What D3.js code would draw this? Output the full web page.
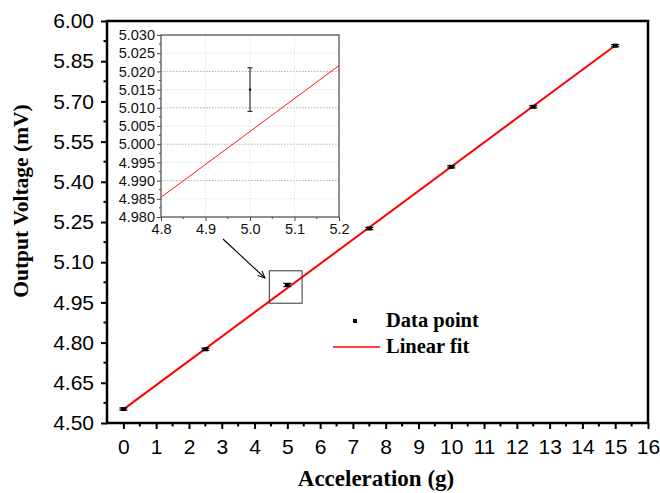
<!DOCTYPE html>
<html>
<head>
<meta charset="utf-8">
<script src="https://cdn.jsdelivr.net/npm/d3@7"></script>
<style>
  body { margin: 0; background: #fff; }
  svg { display: block; }
</style>
</head>
<body>
<div id="chart"></div>
<script>
// Data
const accel = [0, 2.5, 5, 7.5, 10, 12.5, 15];
const voltage = [4.552, 4.775, 5.015, 5.226, 5.456, 5.680, 5.908];
const errBar = [0.004, 0.004, 0.006, 0.004, 0.004, 0.004, 0.004];
const fitSlope = 0.0905;
const fitIntercept = 4.551;
const xTicks = d3.range(0, 17, 1);
const yTicks = [4.50, 4.65, 4.80, 4.95, 5.10, 5.25, 5.40, 5.55, 5.70, 5.85, 6.00];
const insetXTicks = [4.8, 4.9, 5.0, 5.1, 5.2];
const insetYTicks = [4.980, 4.985, 4.990, 4.995, 5.000, 5.005, 5.010, 5.015, 5.020, 5.025, 5.030];
const zoomBox = { x0: 4.45, x1: 5.45, y0: 4.947, y1: 5.068 };

const width = 660, height = 493;
const svg = d3.select("#chart").append("svg")
    .attr("width", width)
    .attr("height", height);

const sans = "'Liberation Sans', Arial, sans-serif";
const serif = "'Liberation Serif', 'Times New Roman', serif";

// Main scales
const x = d3.scaleLinear().domain([-0.5, 16]).range([107, 648]);
const y = d3.scaleLinear().domain([4.5, 6.0]).range([423, 21]);

// Axes
const xAxis = svg.append("g")
    .attr("transform", `translate(0,${y.range()[0]})`)
    .call(d3.axisBottom(x).tickValues(xTicks).tickFormat(d3.format("d")).tickSize(6).tickPadding(10));
const yAxis = svg.append("g")
    .attr("transform", `translate(${x.range()[0]},0)`)
    .call(d3.axisLeft(y).tickValues(yTicks).tickFormat(d3.format(".2f")).tickSize(6).tickPadding(7));

// minor ticks
svg.append("g").selectAll("line")
    .data(d3.range(0.5, 16, 1))
    .join("line")
    .attr("x1", d => x(d)).attr("x2", d => x(d))
    .attr("y1", y.range()[0]).attr("y2", y.range()[0] + 3.5)
    .attr("stroke", "#000").attr("stroke-width", 2);
svg.append("g").selectAll("line")
    .data(d3.range(4.575, 6.0, 0.15))
    .join("line")
    .attr("y1", d => y(d)).attr("y2", d => y(d))
    .attr("x1", x.range()[0]).attr("x2", x.range()[0] - 3.5)
    .attr("stroke", "#000").attr("stroke-width", 2);

[xAxis, yAxis].forEach(g => {
    g.select(".domain").remove();
    g.selectAll(".tick line").attr("stroke", "#000").attr("stroke-width", 2);
    g.selectAll(".tick text")
        .attr("font-family", sans)
        .attr("font-size", "21px")
        .attr("fill", "#000");
});

// Frame
svg.append("rect")
    .attr("x", x.range()[0])
    .attr("y", y.range()[1])
    .attr("width", x.range()[1] - x.range()[0])
    .attr("height", y.range()[0] - y.range()[1])
    .attr("fill", "none")
    .attr("stroke", "#000")
    .attr("stroke-width", 2.5);

// Fit line
svg.append("line")
    .attr("x1", x(0)).attr("y1", y(fitIntercept))
    .attr("x2", x(15)).attr("y2", y(fitIntercept + fitSlope * 15))
    .attr("stroke", "#ff0000")
    .attr("stroke-width", 2);

// Data points with error bars
const pts = svg.append("g").selectAll("g")
    .data(accel.map((a, i) => ({ a, v: voltage[i], e: errBar[i] })))
    .join("g");
pts.append("line")
    .attr("x1", d => x(d.a)).attr("x2", d => x(d.a))
    .attr("y1", d => y(d.v - d.e)).attr("y2", d => y(d.v + d.e))
    .attr("stroke", "#000").attr("stroke-width", 1);
pts.selectAll(".cap")
    .data(d => [d.v - d.e, d.v + d.e].map(v => ({ a: d.a, v })))
    .join("line")
    .attr("x1", d => x(d.a) - 4).attr("x2", d => x(d.a) + 4)
    .attr("y1", d => y(d.v)).attr("y2", d => y(d.v))
    .attr("stroke", "#000").attr("stroke-width", 1.2);
pts.append("rect")
    .attr("x", d => x(d.a) - 2.5).attr("y", d => y(d.v) - 2)
    .attr("width", 5).attr("height", 4)
    .attr("fill", "#000");

// Zoom box
svg.append("rect")
    .attr("x", x(zoomBox.x0))
    .attr("y", y(zoomBox.y1))
    .attr("width", x(zoomBox.x1) - x(zoomBox.x0))
    .attr("height", y(zoomBox.y0) - y(zoomBox.y1))
    .attr("fill", "none")
    .attr("stroke", "#333")
    .attr("stroke-width", 1);

// Arrow
svg.append("defs").append("marker")
    .attr("id", "arrow")
    .attr("viewBox", "0 0 10 10")
    .attr("refX", 9).attr("refY", 5)
    .attr("markerWidth", 8).attr("markerHeight", 8)
    .attr("markerUnits", "userSpaceOnUse")
    .attr("orient", "auto")
    .append("path")
    .attr("d", "M0,1 L9,5 L0,9")
    .attr("fill", "none")
    .attr("stroke", "#000")
    .attr("stroke-width", 1.2);
svg.append("line")
    .attr("x1", 223).attr("y1", 239)
    .attr("x2", 265).attr("y2", 278)
    .attr("stroke", "#000")
    .attr("stroke-width", 1.1)
    .attr("marker-end", "url(#arrow)");

// Inset
const ix = d3.scaleLinear().domain([4.8, 5.2]).range([161, 339]);
const iy = d3.scaleLinear().domain([4.98, 5.03]).range([217, 35]);
const inset = svg.append("g");

inset.append("rect")
    .attr("x", ix.range()[0]).attr("y", iy.range()[1])
    .attr("width", ix.range()[1] - ix.range()[0])
    .attr("height", iy.range()[0] - iy.range()[1])
    .attr("fill", "#fff");

// grid
inset.append("g").selectAll("line")
    .data(insetYTicks.slice(1, -1))
    .join("line")
    .attr("x1", ix.range()[0]).attr("x2", ix.range()[1])
    .attr("y1", d => iy(d)).attr("y2", d => iy(d))
    .attr("stroke", (d, i) => i % 2 === 0 ? "#e4e4e4" : "#b0b0b0")
    .attr("stroke-width", 1)
    .attr("stroke-dasharray", "1.5,1.5");
inset.append("g").selectAll("line")
    .data(insetXTicks.slice(1, -1))
    .join("line")
    .attr("x1", d => ix(d)).attr("x2", d => ix(d))
    .attr("y1", iy.range()[0]).attr("y2", iy.range()[1])
    .attr("stroke", "#e4e4e4")
    .attr("stroke-width", 1)
    .attr("stroke-dasharray", "1.5,1.5");

const ixAxis = inset.append("g")
    .attr("transform", `translate(0,${iy.range()[0]})`)
    .call(d3.axisBottom(ix).tickValues(insetXTicks).tickFormat(d3.format(".1f")).tickSize(4).tickPadding(3));
const iyAxis = inset.append("g")
    .attr("transform", `translate(${ix.range()[0]},0)`)
    .call(d3.axisLeft(iy).tickValues(insetYTicks).tickFormat(d3.format(".3f")).tickSize(4).tickPadding(2));
[ixAxis, iyAxis].forEach(g => {
    g.select(".domain").remove();
    g.selectAll(".tick line").attr("stroke", "#444").attr("stroke-width", 1);
    g.selectAll(".tick text")
        .attr("font-family", sans)
        .attr("font-size", "14.5px")
        .attr("fill", "#111");
});
inset.append("g").selectAll("line")
    .data(d3.range(4.9825, 5.03, 0.005))
    .join("line")
    .attr("y1", d => iy(d)).attr("y2", d => iy(d))
    .attr("x1", ix.range()[0]).attr("x2", ix.range()[0] - 2)
    .attr("stroke", "#444");
inset.append("g").selectAll("line")
    .data(d3.range(4.85, 5.2, 0.1))
    .join("line")
    .attr("x1", d => ix(d)).attr("x2", d => ix(d))
    .attr("y1", iy.range()[0]).attr("y2", iy.range()[0] + 2)
    .attr("stroke", "#444");

inset.append("rect")
    .attr("x", ix.range()[0]).attr("y", iy.range()[1])
    .attr("width", ix.range()[1] - ix.range()[0])
    .attr("height", iy.range()[0] - iy.range()[1])
    .attr("fill", "none")
    .attr("stroke", "#555")
    .attr("stroke-width", 1.3);

inset.append("line")
    .attr("x1", ix(4.8)).attr("y1", iy(fitIntercept + fitSlope * 4.8))
    .attr("x2", ix(5.2)).attr("y2", iy(fitIntercept + fitSlope * 5.2))
    .attr("stroke", "#ff1a1a")
    .attr("stroke-width", 1);

const ip = { a: accel[2], v: voltage[2], e: errBar[2] };
inset.append("line")
    .attr("x1", ix(ip.a)).attr("x2", ix(ip.a))
    .attr("y1", iy(ip.v - ip.e)).attr("y2", iy(ip.v + ip.e))
    .attr("stroke", "#333").attr("stroke-width", 1.2);
inset.selectAll(".icap")
    .data([ip.v - ip.e, ip.v + ip.e])
    .join("line")
    .attr("x1", ix(ip.a) - 2.5).attr("x2", ix(ip.a) + 2.5)
    .attr("y1", d => iy(d)).attr("y2", d => iy(d))
    .attr("stroke", "#333").attr("stroke-width", 1.2);
inset.append("rect")
    .attr("x", ix(ip.a) - 1).attr("y", iy(ip.v) - 1)
    .attr("width", 2).attr("height", 2)
    .attr("fill", "#000");

// Legend
const legend = svg.append("g");
legend.append("rect")
    .attr("x", 353).attr("y", 319).attr("width", 4).attr("height", 4)
    .attr("fill", "#000");
legend.append("line")
    .attr("x1", 333).attr("x2", 380).attr("y1", 347).attr("y2", 347)
    .attr("stroke", "#ff0000").attr("stroke-width", 1.5);
legend.selectAll("text")
    .data(["Data point", "Linear fit"])
    .join("text")
    .attr("x", 386)
    .attr("y", (d, i) => 327 + i * 26)
    .attr("font-family", serif)
    .attr("font-weight", "bold")
    .attr("font-size", "20.5px")
    .text(d => d);

// Axis titles
svg.append("text")
    .attr("x", 376).attr("y", 486)
    .attr("text-anchor", "middle")
    .attr("font-family", serif)
    .attr("font-weight", "bold")
    .attr("font-size", "23px")
    .text("Acceleration (g)");
svg.append("text")
    .attr("transform", "translate(28,201) rotate(-90)")
    .attr("text-anchor", "middle")
    .attr("font-family", serif)
    .attr("font-weight", "bold")
    .attr("font-size", "21.5px")
    .text("Output Voltage (mV)");
</script>
</body>
</html>
